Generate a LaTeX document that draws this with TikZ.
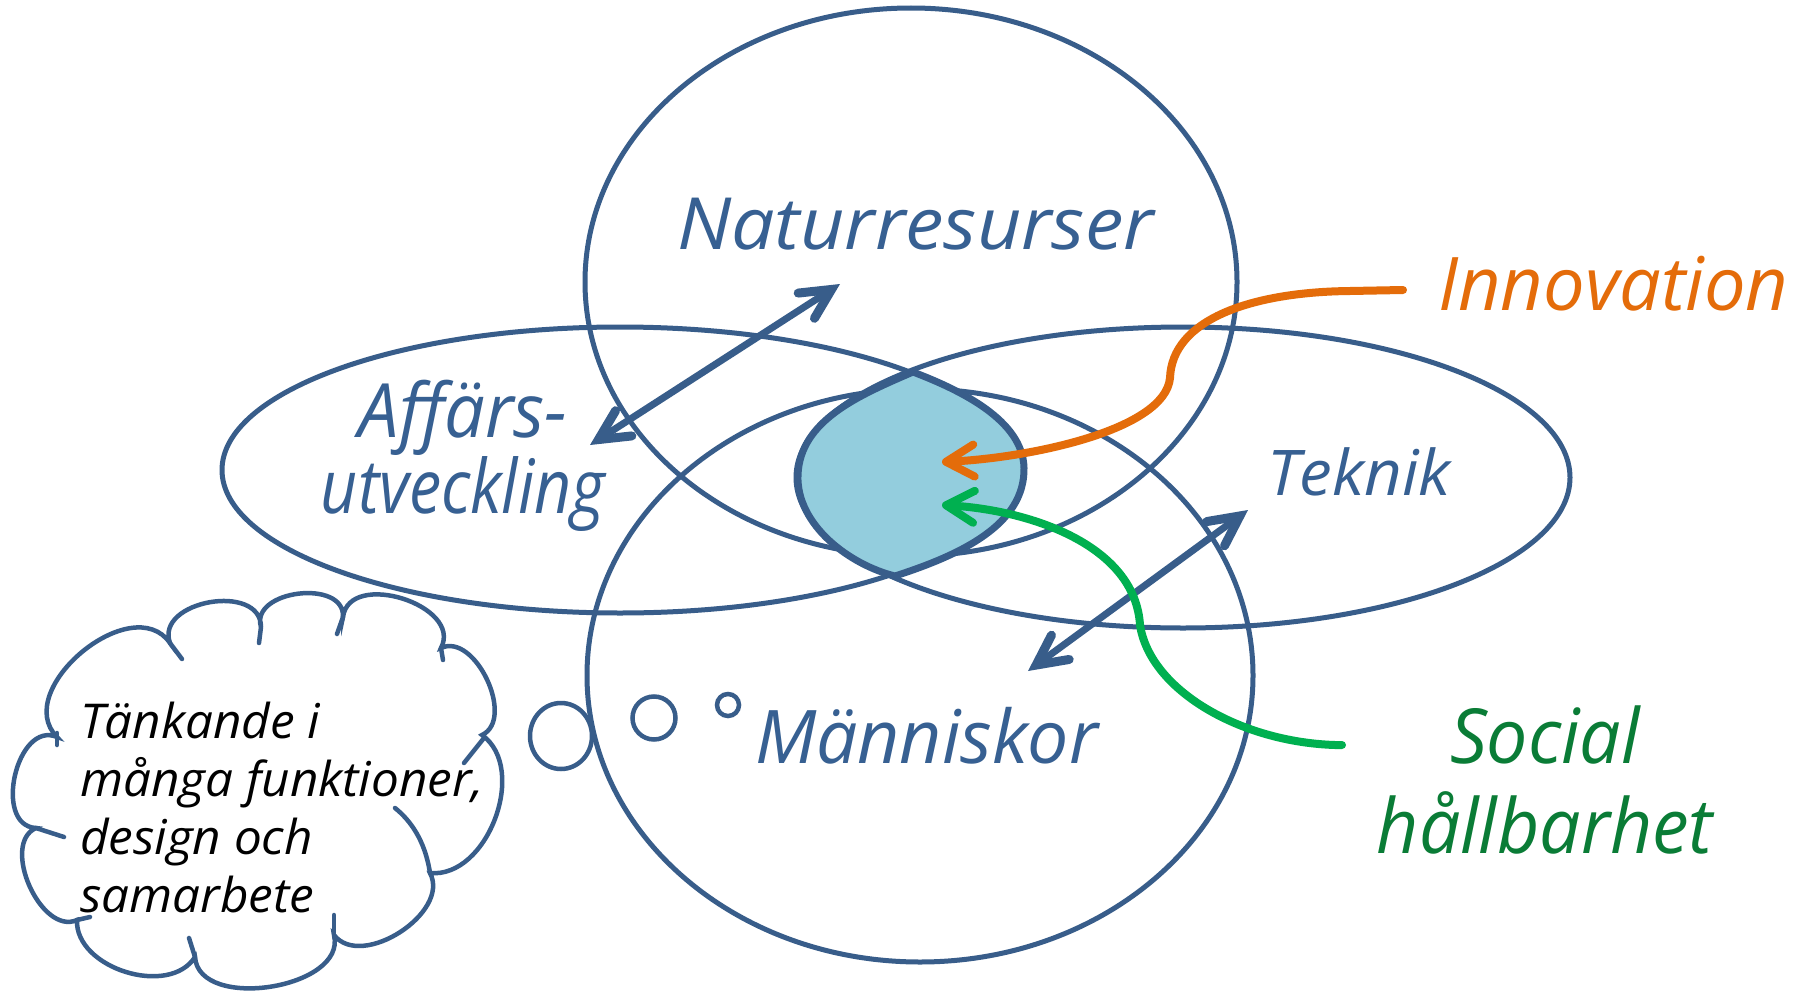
\documentclass[tikz,border=0pt]{standalone}
\usepackage{fontspec}
\usepackage{graphicx}
\setmainfont{Open Sans}
\newfontfamily\hN[FakeStretch=1.07]{Open Sans}
\newfontfamily\hA[FakeStretch=0.86]{Open Sans}
\newfontfamily\hTk[FakeStretch=1.04]{Open Sans}
\newfontfamily\hM[FakeStretch=0.99]{Open Sans}
\newfontfamily\hI[FakeStretch=1.0]{Open Sans}
\newfontfamily\hS[FakeStretch=0.965]{Open Sans}
\newfontfamily\hC[FakeStretch=1.03]{Open Sans}
\usetikzlibrary{arrows.meta,shapes.geometric}
\definecolor{eblue}{HTML}{385D8A}
\definecolor{tblue}{HTML}{376092}
\definecolor{blobfill}{HTML}{93CDDD}
\definecolor{orng}{HTML}{E46C0A}
\definecolor{grn}{HTML}{00B050}
\definecolor{dgrn}{HTML}{0A7C36}
\begin{document}
\begin{tikzpicture}[x=1pt,y=-1pt,
  venn/.style={ellipse, draw=eblue, line width=5pt, inner sep=0pt, outer sep=0pt},
  bubble/.style={ellipse, draw=eblue, line width=4.5pt, inner sep=0pt, outer sep=0pt},
  lbl/.style={inner sep=0pt, outer sep=0pt, text=tblue},
  bihead/.tip={Straight Barb[length=30pt,width=30pt,line width=9pt,line cap=round,line join=miter]},
  biarrow/.style={draw=eblue, line width=7pt, bihead-bihead},
  curvearrow/.style={line width=8pt, line cap=round,
     -{Straight Barb[length=28pt,width=32pt,line cap=round,line join=round]}},
  cloudline/.style={draw=eblue, line width=4.5pt, line cap=round}]
\fill[white] (0,0) rectangle (1807,998);
\useasboundingbox (0,0) rectangle (1807,998);

% Venn ellipses
\node[venn, minimum width=652pt, minimum height=548pt] (natur) at (911,282) {};
\node[venn, minimum width=796pt, minimum height=286pt] (affar) at (620,470) {};
\node[venn, minimum width=774pt, minimum height=301pt] (tekn) at (1183,477.5) {};
\node[venn, minimum width=666pt, minimum height=573pt] (manni) at (920,675.5) {};

% central blob
\draw[draw=eblue, fill=blobfill, line width=7pt, line join=round]
  (913,372) .. controls (860,395) and (800,420) .. (798,475)
  .. controls (796,525) and (850,565) .. (895,576)
  .. controls (960,555) and (1025,525) .. (1024,468)
  .. controls (1023,420) and (960,390) .. (913,372) -- cycle;

% labels
\node[lbl, anchor=base west, font={\hN\itshape\fontsize{72}{72}\selectfont}] (natlbl) at (677,249) {Naturresurser};
\node[lbl, anchor=base, align=center, font={\hA\itshape\fontsize{75}{76}\selectfont}] (afflbl) at (463,513) {\scalebox{1.12}[1]{Affärs-}\\utveckling};
\node[lbl, anchor=base west, font={\hTk\itshape\fontsize{63}{63}\selectfont}] (teklbl) at (1267,495) {Teknik};
\node[lbl, anchor=base west, font={\hM\itshape\fontsize{74}{74}\selectfont}] (manlbl) at (755,763) {Människor};
\node[inner sep=0pt, anchor=base west, text=orng, font={\hI\itshape\fontsize{74}{74}\selectfont}] (innlbl) at (1438,310) {Innovation};
\node[inner sep=0pt, anchor=base, align=center, text=dgrn, font={\hS\itshape\fontsize{76}{90}\selectfont}] (soclbl) at (1545,853) {Social\\hållbarhet};

% double arrows
\coordinate (b1a) at (590,445);
\coordinate (b1b) at (840,284);
\draw[biarrow] (b1a) -- (b1b);
\coordinate (b2a) at (1028,671);
\coordinate (b2b) at (1248,510);
\draw[biarrow] (b2a) -- (b2b);

% innovation arrow
\coordinate (innS) at (1403,290);
\coordinate (innT) at (942,462);
\draw[curvearrow, draw=orng] (innS) -- (1350,291)
  .. controls (1250,292) and (1172,320) .. (1170,378)
  .. controls (1165,430) and (1030,458) .. (innT);

% social arrow
\coordinate (socS) at (1342,745);
\coordinate (socT) at (942,505);
\draw[curvearrow, draw=grn] (socS) -- (1335,745)
  .. controls (1240,742) and (1150,690) .. (1140,625)
  .. controls (1135,545) and (1030,510) .. (socT);

% thought cloud
\draw[cloudline, fill=white] (57,737) to[bend left=95, looseness=1.15] (170,643)
  to[bend left=100, looseness=1.25] (261,627)
  to[bend left=100, looseness=1.2] (343,617)
  to[bend left=100, looseness=1.2] (441,648)
  to[bend left=90] (482,735)
  to[bend left=75] (430,873)
  to[bend left=85] (334,935)
  to[bend left=95] (195,957)
  to[bend left=75] (77,920)
  to[bend left=90] (36,828)
  to[bend left=100, looseness=1.2] cycle;
\draw[cloudline] (170,643) -- (182,659);
\draw[cloudline] (261,627) -- (259,643);
\draw[cloudline] (343,617) -- (337,634);
\draw[cloudline] (441,648) -- (443,660);
\draw[cloudline] (484,738) -- (464,763);
\draw[cloudline] (430,873) .. controls (425,840) and (410,820) .. (395,808);
\draw[cloudline] (334,937) -- (334,915);
\draw[cloudline] (195,957) -- (189,938);
\draw[cloudline] (77,920) -- (90,917);
\draw[cloudline] (36,828) -- (64,837);
\draw[cloudline] (57,733) -- (57,745);
\node[inner sep=0pt, anchor=base west, align=left, text=black, font={\hC\itshape\fontsize{48}{57.7}\selectfont}] (think) at (80,912) {Tänkande i\\många funktioner,\\design och\\samarbete};

% thought bubbles
\node[bubble, minimum width=62pt, minimum height=66pt] (bub1) at (561,736) {};
\node[bubble, minimum width=43pt, minimum height=43pt] (bub2) at (654,718) {};
\node[bubble, minimum width=22pt, minimum height=22pt] (bub3) at (728,705) {};
\end{tikzpicture}
\end{document}
